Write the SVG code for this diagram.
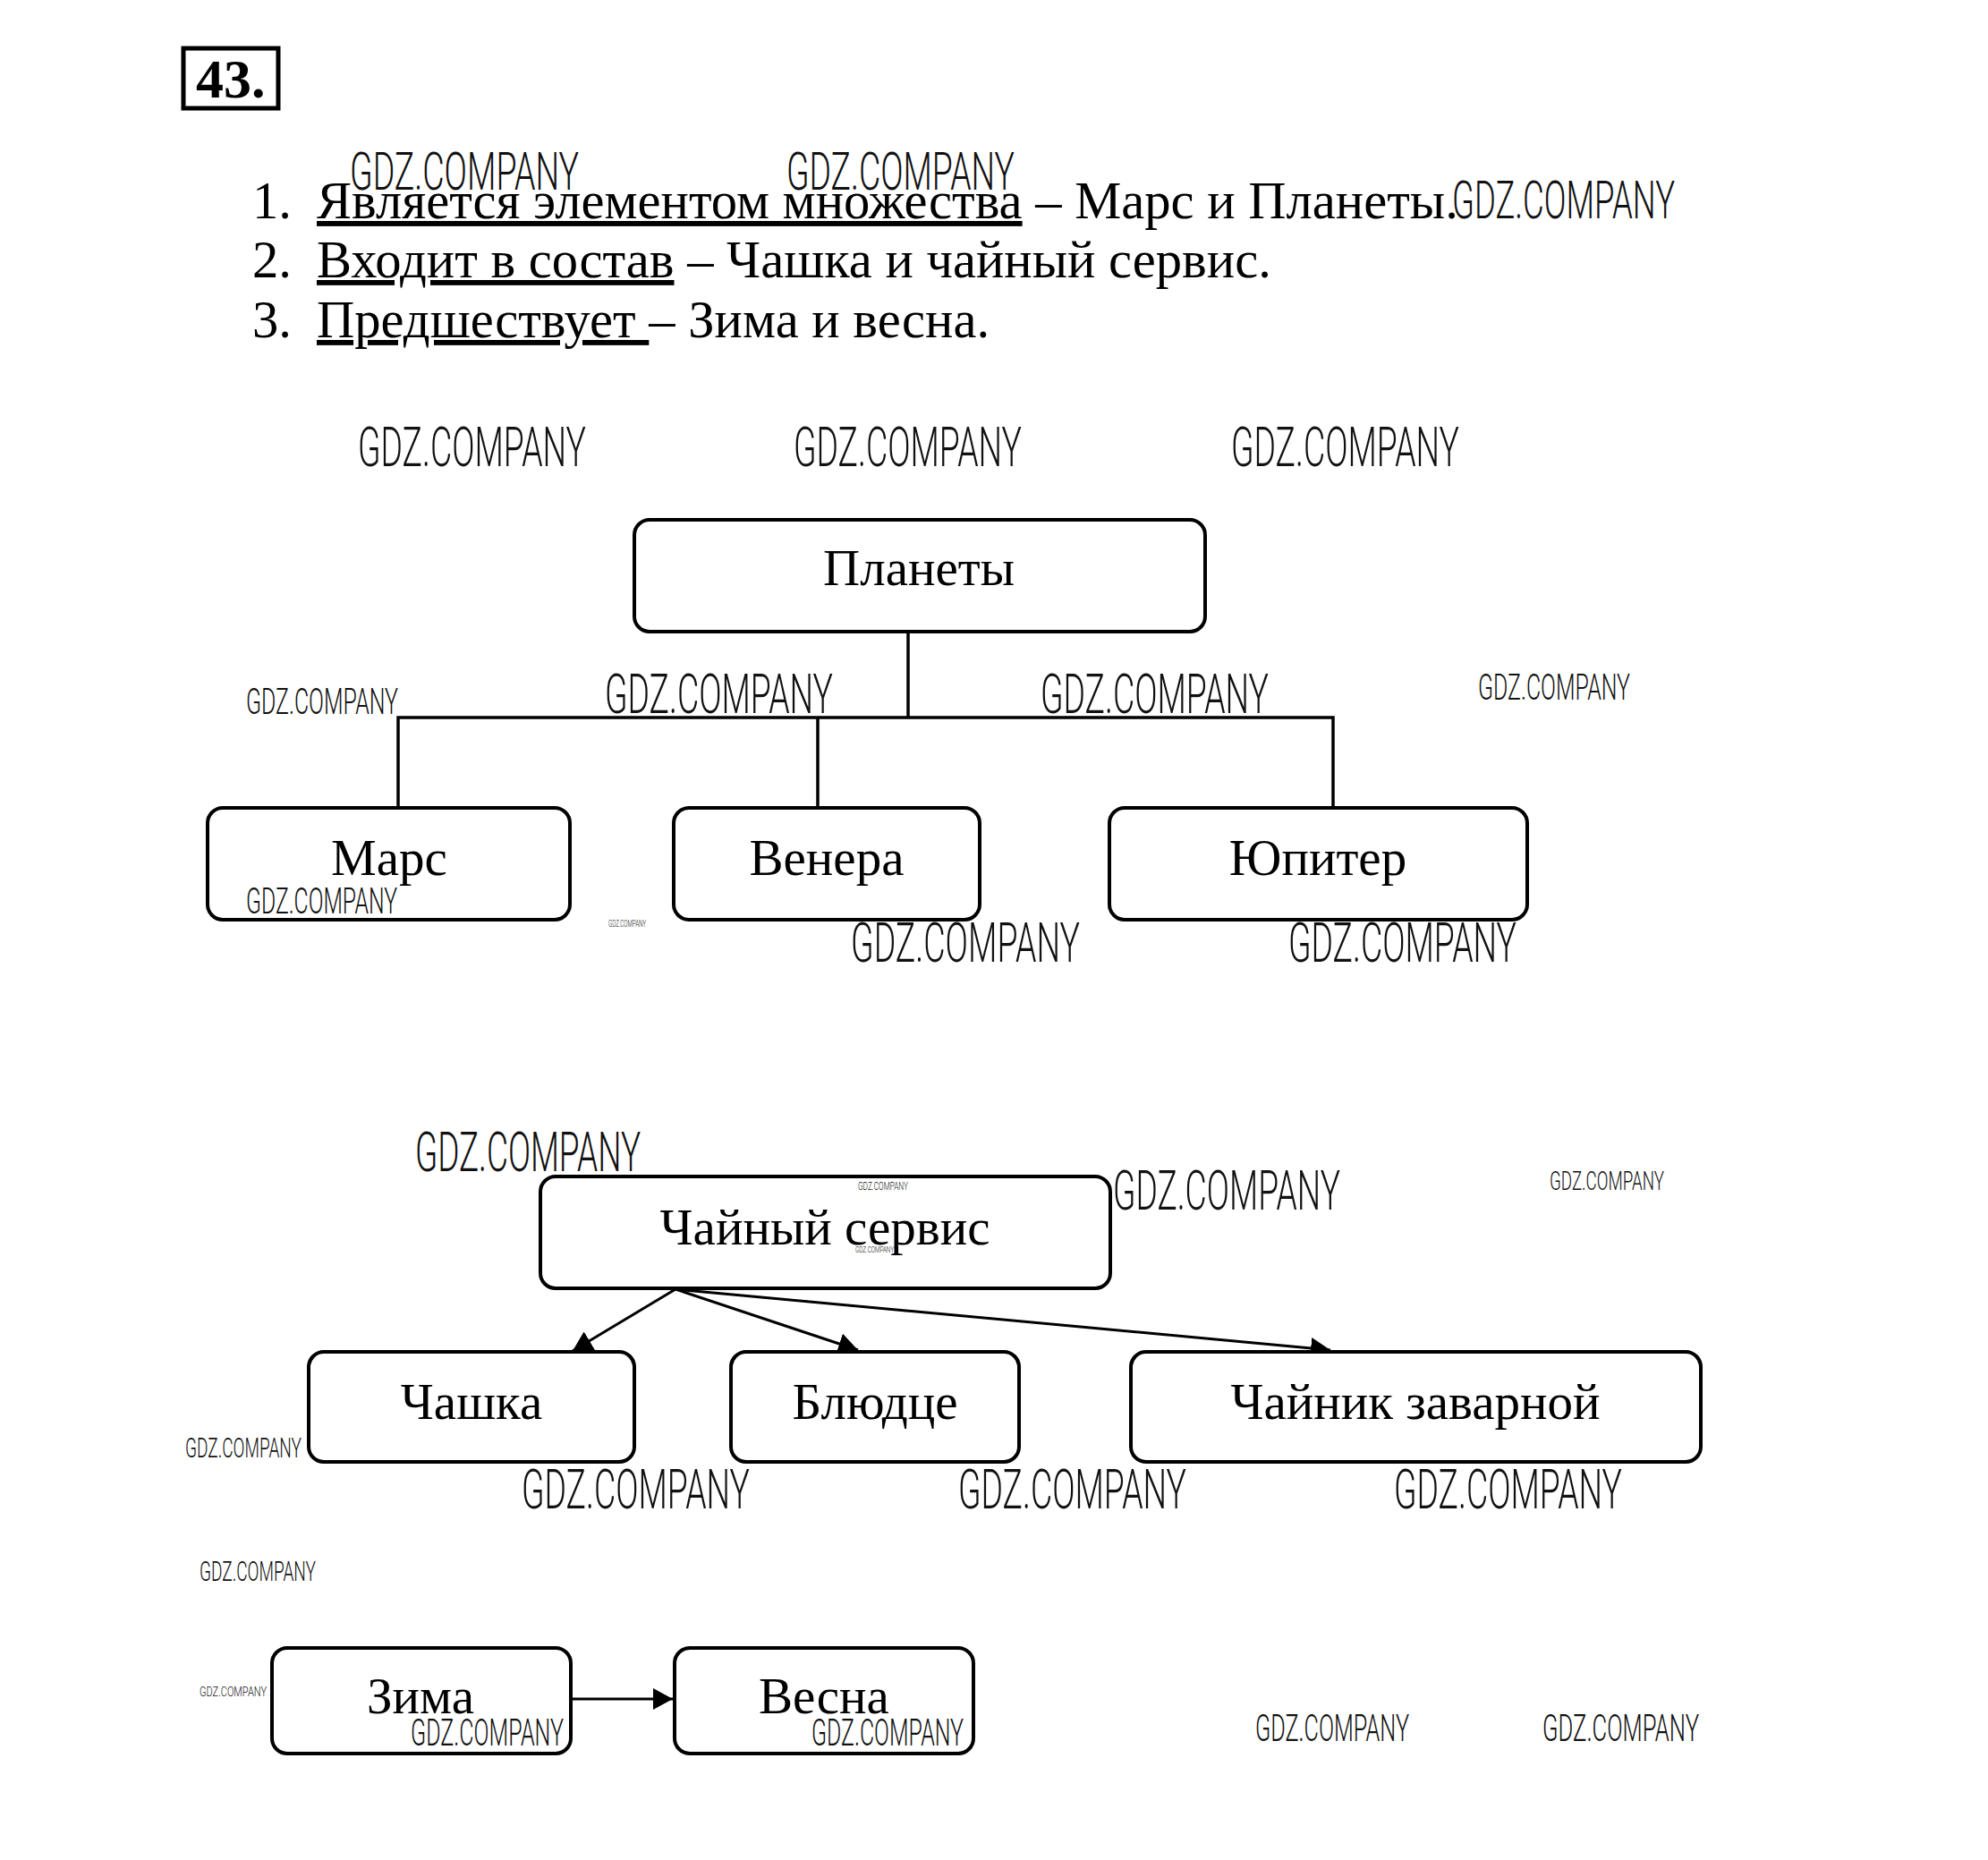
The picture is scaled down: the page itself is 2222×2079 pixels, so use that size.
<svg xmlns="http://www.w3.org/2000/svg" width="2222" height="2079" viewBox="0 0 2222 2079">
<defs>
<style>
.t{font-family:"Liberation Serif","Times New Roman",serif;font-size:57px;fill:#000}
.l{font-size:58.6px}
.c{text-anchor:middle}
.box{fill:#fff;stroke:#000;stroke-width:4}
.ln{fill:none;stroke:#000;stroke-width:3.5}
.ar{fill:none;stroke:#000;stroke-width:3}
.wm{font-family:Roboto,"Liberation Sans",sans-serif;font-weight:300;fill:#111}
.u{text-decoration:underline}
</style>
<marker id="ah" markerUnits="userSpaceOnUse" viewBox="0 0 22 24" refX="22" refY="12" markerWidth="22" markerHeight="24" orient="auto">
<path d="M0,0 L22,12 L0,24 z" fill="#000"/>
</marker>
</defs>
<rect width="2222" height="2079" fill="#fff"/>

<g id="header">
<rect x="205" y="54" width="106" height="67" fill="none" stroke="#000" stroke-width="5"/>
<text x="219" y="109" font-family="Liberation Serif, serif" font-size="62" font-weight="bold">43.</text>
<text class="t l" x="282" y="244">1.</text>
<text class="t l" x="354" y="244"><tspan class="u">Является элементом множества</tspan> – Марс и Планеты.</text>
<text class="t l" x="282" y="310">2.</text>
<text class="t l" x="354" y="310"><tspan class="u">Входит в состав</tspan> – Чашка и чайный сервис.</text>
<text class="t l" x="282" y="377">3.</text>
<text class="t l" x="354" y="377"><tspan class="u">Предшествует </tspan>– Зима и весна.</text>
</g>

<g id="connectors">
<path class="ln" d="M1015,706 V802"/>
<path class="ln" d="M445,903 V802 H1490 V903"/>
<path class="ln" d="M914,802 V903"/>
<path class="ar" d="M755,1441 L640,1510" marker-end="url(#ah)"/>
<path class="ar" d="M755,1441 L959,1509" marker-end="url(#ah)"/>
<path class="ar" d="M755,1441 L1487,1509" marker-end="url(#ah)"/>
<path class="ar" stroke-width="4" d="M638,1899 L752,1899" marker-end="url(#ah)"/>
</g>

<g id="planets"><rect class="box" x="709" y="581" width="638" height="125" rx="17"/><text class="t c" x="1027" y="654">Планеты</text></g>
<g id="mars"><rect class="box" x="232" y="903" width="405" height="125" rx="17"/><text class="t c" x="435" y="978">Марс</text></g>
<g id="venus"><rect class="box" x="753" y="903" width="342" height="125" rx="17"/><text class="t c" x="924" y="978">Венера</text></g>
<g id="jupiter"><rect class="box" x="1240" y="903" width="467" height="125" rx="17"/><text class="t c" x="1473" y="978">Юпитер</text></g>

<g id="tea-set"><rect class="box" x="604" y="1315" width="637" height="125" rx="17"/><text class="t c" x="922" y="1391">Чайный сервис</text></g>
<g id="cup"><rect class="box" x="345" y="1511" width="364" height="123" rx="17"/><text class="t c" x="527" y="1586">Чашка</text></g>
<g id="saucer"><rect class="box" x="817" y="1511" width="322" height="123" rx="17"/><text class="t c" x="978" y="1586">Блюдце</text></g>
<g id="teapot"><rect class="box" x="1264" y="1511" width="637" height="123" rx="17"/><text class="t c" x="1582" y="1586">Чайник заварной</text></g>

<g id="winter"><rect class="box" x="304" y="1842" width="334" height="118" rx="17"/><text class="t c" x="470" y="1915">Зима</text></g>
<g id="spring"><rect class="box" x="754" y="1842" width="334" height="118" rx="17"/><text class="t c" x="921" y="1915">Весна</text></g>

<g id="watermarks">
<text class="wm" x="391" y="212" font-size="60" textLength="256" lengthAdjust="spacingAndGlyphs">GDZ.COMPANY</text>
<text class="wm" x="879" y="212" font-size="60" textLength="255" lengthAdjust="spacingAndGlyphs">GDZ.COMPANY</text>
<text class="wm" x="1623" y="244" font-size="60" textLength="249" lengthAdjust="spacingAndGlyphs">GDZ.COMPANY</text>
<text class="wm" x="400" y="521" font-size="62" textLength="255" lengthAdjust="spacingAndGlyphs">GDZ.COMPANY</text>
<text class="wm" x="887" y="521" font-size="62" textLength="255" lengthAdjust="spacingAndGlyphs">GDZ.COMPANY</text>
<text class="wm" x="1376" y="521" font-size="62" textLength="255" lengthAdjust="spacingAndGlyphs">GDZ.COMPANY</text>
<text class="wm" x="275" y="798" font-size="41" textLength="170" lengthAdjust="spacingAndGlyphs">GDZ.COMPANY</text>
<text class="wm" x="676" y="797" font-size="62" textLength="255" lengthAdjust="spacingAndGlyphs">GDZ.COMPANY</text>
<text class="wm" x="1163" y="797" font-size="62" textLength="255" lengthAdjust="spacingAndGlyphs">GDZ.COMPANY</text>
<text class="wm" x="1652" y="782" font-size="41" textLength="170" lengthAdjust="spacingAndGlyphs">GDZ.COMPANY</text>
<text class="wm" x="275" y="1021" font-size="41" textLength="169" lengthAdjust="spacingAndGlyphs">GDZ.COMPANY</text>
<text class="wm" x="680" y="1036" font-size="10" textLength="42" lengthAdjust="spacingAndGlyphs">GDZ.COMPANY</text>
<text class="wm" x="951" y="1075" font-size="62" textLength="256" lengthAdjust="spacingAndGlyphs">GDZ.COMPANY</text>
<text class="wm" x="1440" y="1075" font-size="62" textLength="255" lengthAdjust="spacingAndGlyphs">GDZ.COMPANY</text>
<text class="wm" x="464" y="1309" font-size="62" textLength="252" lengthAdjust="spacingAndGlyphs">GDZ.COMPANY</text>
<text class="wm" x="959" y="1330" font-size="12" textLength="56" lengthAdjust="spacingAndGlyphs">GDZ.COMPANY</text>
<text class="wm" x="956" y="1400" font-size="9" textLength="43" lengthAdjust="spacingAndGlyphs">GDZ.COMPANY</text>
<text class="wm" x="1244" y="1352" font-size="62" textLength="254" lengthAdjust="spacingAndGlyphs">GDZ.COMPANY</text>
<text class="wm" x="1732" y="1330" font-size="30" textLength="128" lengthAdjust="spacingAndGlyphs">GDZ.COMPANY</text>
<text class="wm" x="207" y="1629" font-size="31" textLength="130" lengthAdjust="spacingAndGlyphs">GDZ.COMPANY</text>
<text class="wm" x="583" y="1686" font-size="62" textLength="255" lengthAdjust="spacingAndGlyphs">GDZ.COMPANY</text>
<text class="wm" x="1071" y="1686" font-size="62" textLength="255" lengthAdjust="spacingAndGlyphs">GDZ.COMPANY</text>
<text class="wm" x="1558" y="1686" font-size="62" textLength="255" lengthAdjust="spacingAndGlyphs">GDZ.COMPANY</text>
<text class="wm" x="223" y="1767" font-size="31" textLength="130" lengthAdjust="spacingAndGlyphs">GDZ.COMPANY</text>
<text class="wm" x="223" y="1896" font-size="14" textLength="75" lengthAdjust="spacingAndGlyphs">GDZ.COMPANY</text>
<text class="wm" x="459" y="1951" font-size="43" textLength="171" lengthAdjust="spacingAndGlyphs">GDZ.COMPANY</text>
<text class="wm" x="907" y="1951" font-size="43" textLength="170" lengthAdjust="spacingAndGlyphs">GDZ.COMPANY</text>
<text class="wm" x="1403" y="1946" font-size="43" textLength="172" lengthAdjust="spacingAndGlyphs">GDZ.COMPANY</text>
<text class="wm" x="1724" y="1946" font-size="43" textLength="175" lengthAdjust="spacingAndGlyphs">GDZ.COMPANY</text>
</g>
</svg>
